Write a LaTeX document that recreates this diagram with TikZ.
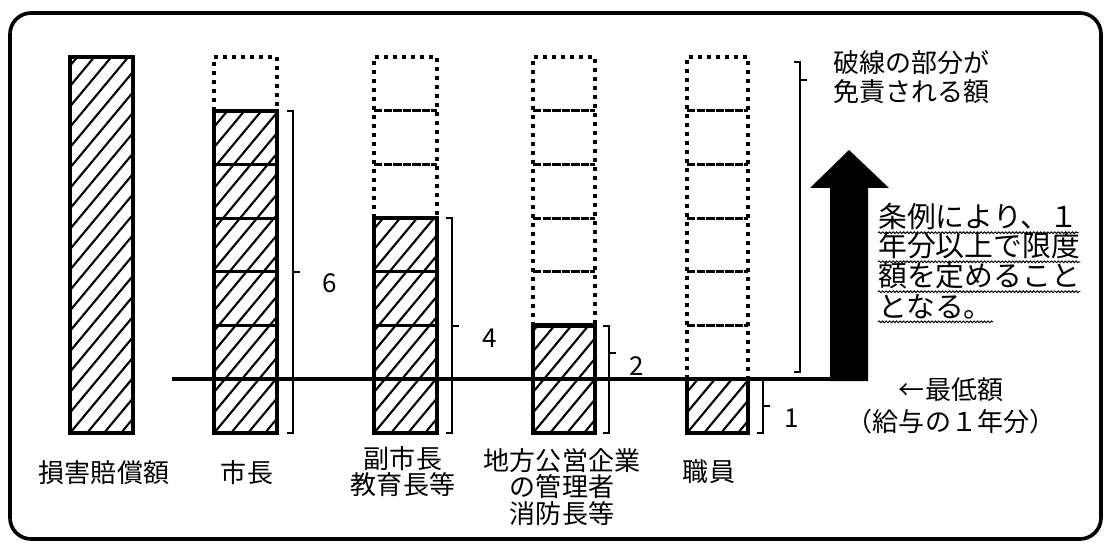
\documentclass[tikz,border=0pt]{standalone}
\usepackage{fontspec}
\newfontfamily\jp{Noto Sans CJK JP}
\usetikzlibrary{decorations.pathmorphing}
\tikzset{
  frame/.style={line width=2.6pt, rounded corners=15pt},
  hbox/.style={draw, line width=3pt},
  hline/.style={line width=1.5pt},
  usep/.style={line width=2.2pt},
  dbox/.style={line width=2.8pt, dash pattern=on 2.8pt off 3.6pt},
  dsep/.style={line width=2pt, dash pattern=on 6pt off 0.8pt},
  br/.style={line width=1.4pt},
  minl/.style={line width=2.6pt},
  lbl/.style={font=\jp\fontsize{18.5}{18.6}\selectfont, align=center, inner sep=0pt},
  num/.style={font=\jp\fontsize{18.5}{19}\selectfont, inner sep=0pt},
  note/.style={font=\jp\fontsize{20.5}{21}\selectfont, anchor=west, inner xsep=0pt, inner ysep=1.5pt},
  wavy/.style={line width=0.7pt, decorate, decoration={snake, amplitude=0.6pt, segment length=2.5pt}}
}
\newcommand{\hatchbar}[4]{
  \begin{scope}
    \clip (#1,#2) rectangle (#3,#4);
    \foreach \k in {0,...,25} \draw[hline] (#1-340+17*\k,#4) -- ++(400,-480);
  \end{scope}
}
\newcommand{\drawcol}[3]{
  \hatchbar{#1}{433-#3*53.71}{#2}{433}
  \ifnum#3<7
    \foreach \k in {1,...,6} {
      \ifnum\k<#3 \draw[usep] (#1,433-\k*53.71) -- (#2,433-\k*53.71);\fi
      \ifnum\k>#3 \draw[dsep] (#1,433-\k*53.71) -- (#2,433-\k*53.71);\fi
    }
    \draw[dbox] (#1,433-#3*53.71) -- (#1,57) -- (#2,57) -- (#2,433-#3*53.71);
  \fi
  \draw[hbox] (#1,433) rectangle (#2,433-#3*53.71);
}
\newcommand{\sidebrace}[4]{
  \draw[br] (#1-6,#2) -- (#1,#2) -- (#1,#3) -- (#1-6,#3);
  \draw[br] (#1,#4) -- (#1+7,#4);
}

\begin{document}
\begin{tikzpicture}[x=0.025cm, y=-0.025cm]
  \useasboundingbox (0,0) rectangle (1108,543);
  \draw[frame] (10,13) rectangle (1101,539);

  \drawcol{70}{133}{7}
  \drawcol{214}{277}{6}
  \drawcol{374}{437}{4}
  \drawcol{533}{595}{2}
  \drawcol{687}{748}{1}

  \coordinate (minL) at (172,379.3);
  \coordinate (minR) at (830,379.3);
  \draw[minl] (minL) -- (minR);

  \fill (830,381) -- (830,188) -- (810,188) -- (849,150) -- (889,188) -- (868,188) -- (868,381) -- cycle;

  \sidebrace{293}{110.7}{433}{271.9}
  \sidebrace{452}{218.2}{433}{325.6}
  \sidebrace{609}{325.6}{433}{353}
  \sidebrace{763}{379.3}{433}{406}
  \sidebrace{800}{62}{372}{80}

  \node[num] (n6) at (330,283) {6};
  \node[num] (n4) at (490,338) {4};
  \node[num] (n2) at (637,366) {2};
  \node[num] (n1) at (792,418) {1};

  \node[lbl, anchor=west, align=left, font=\jp\fontsize{18.5}{20.5}\selectfont] (cut) at (833,77) {破線の部分が\\免責される額};

  \node[note] (r1) at (878,217) {条例により、１};
  \node[note] (r2) at (878,246) {年分以上で限度};
  \node[note] (r3) at (878,276) {額を定めること};
  \node[note] (r4) at (878,307) {となる。};
  \foreach \r in {r1,r2,r3,r4}
    \draw[wavy] (\r.south west) -- (\r.south east);

  \node[lbl, font=\jp\fontsize{18.5}{22.5}\selectfont] (minlbl) at (951,406) {←最低額\\（給与の１年分）};

  \node[lbl] (dmg) at (104,473) {損害賠償額};
  \node[lbl] (mayor) at (247,473) {市長};
  \node[lbl] (vice) at (403,472) {副市長\\教育長等};
  \node[lbl] (chief) at (562,487) {地方公営企業\\の管理者\\消防長等};
  \node[lbl] (staff) at (709,472) {職員};
\end{tikzpicture}
\end{document}
